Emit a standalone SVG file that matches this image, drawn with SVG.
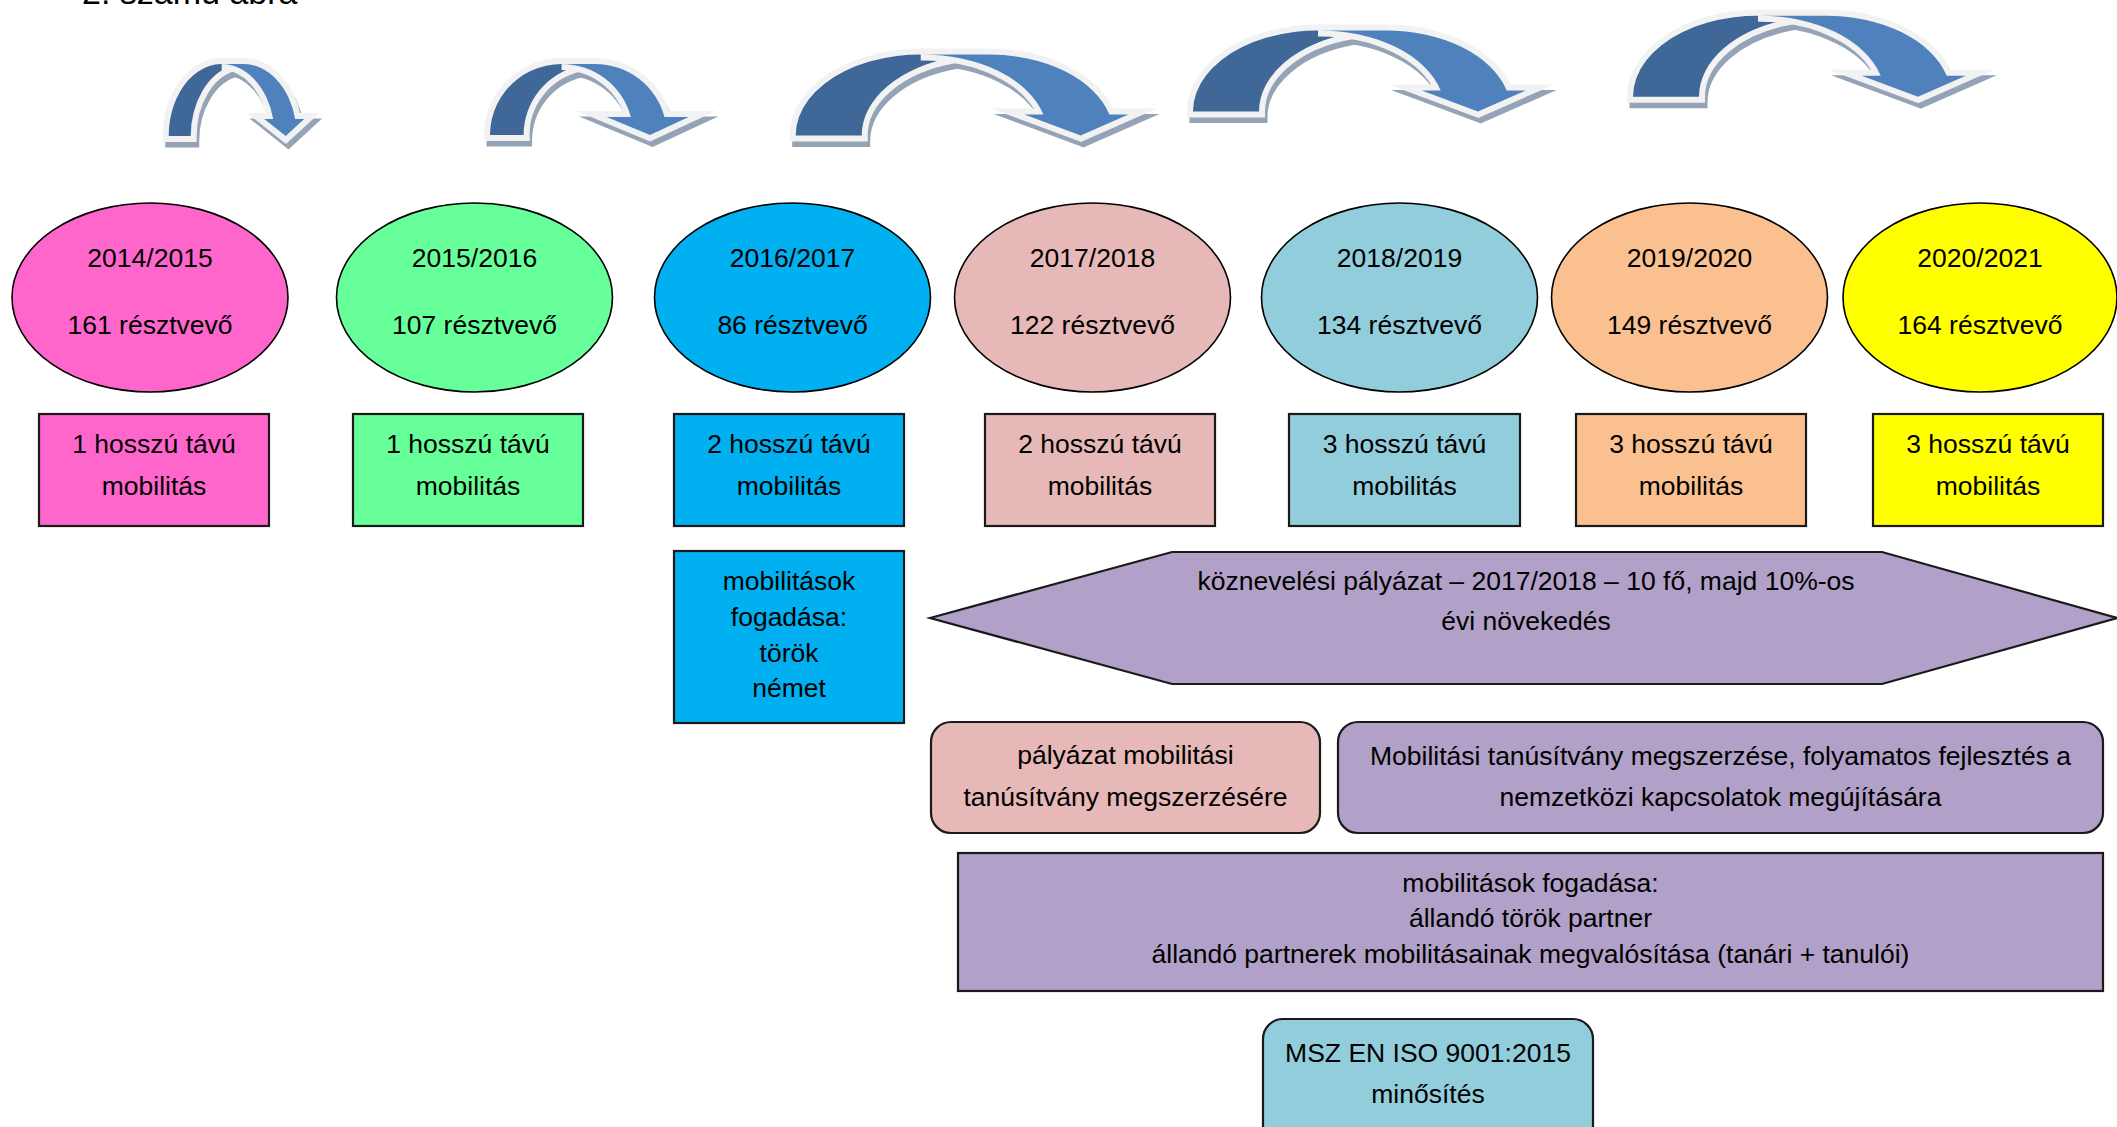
<svg xmlns="http://www.w3.org/2000/svg" width="2117" height="1127" viewBox="0 0 2117 1127">
<defs>
<style>
text{font-family:"Liberation Sans",Arial,sans-serif;font-size:26.5px;fill:#000;text-anchor:middle}
.title{text-anchor:start;font-size:34px}
.sh{fill:#94A3B6;stroke:#94A3B6;stroke-width:12;stroke-linejoin:miter;stroke-miterlimit:12}
.dk{fill:#3F6797;stroke:#F2F2F2;stroke-width:12;stroke-linejoin:miter;stroke-miterlimit:12;paint-order:stroke}
.lt{fill:#4F81BD;stroke:#F2F2F2;stroke-width:12;stroke-linejoin:miter;stroke-miterlimit:12;paint-order:stroke}
.el{stroke:#000;stroke-width:1.6}
.bx{stroke:#1a1a1a;stroke-width:2.2}
</style>
<path id="a1d" d="M64,1.57 A53,72 0 0 0 22,72 L0,72 A53,72 0 0 1 64,1.57 Z"/>
<path id="a1l" d="M117,72 L95.5,55 L104.5,55 A53,72 0 0 0 53,0 L75,0 A53,72 0 0 1 126.5,55 L135.5,55 Z"/>
<path id="a2d" d="M88.4,1.98 A71.6,71 0 0 0 33.6,71 L0,71 A71.6,71 0 0 1 88.4,1.98 Z"/>
<path id="a2l" d="M160,71 L116.66,53 L140.86,53 A71.6,71 0 0 0 71.6,0 L105.2,0 A71.6,71 0 0 1 174.46,53 L198.66,53 Z"/>
<path id="a3d" d="M158,2.87 A125,81 0 0 0 66,81 L0,81 A125,81 0 0 1 158,2.87 Z"/>
<path id="a3l" d="M285,81 L228.73,60 L247.73,60 A125,81 0 0 0 125,0 L191,0 A125,81 0 0 1 313.73,60 L332.73,60 Z"/>
</defs>

<text class="title" x="82" y="4">2. számú ábra</text>

<g id="connectors">
  <g id="arrow1" transform="translate(168.7,64)">
    <use href="#a1d" class="sh" transform="translate(2.5,5.5)"/>
    <use href="#a1l" class="sh" transform="translate(2.5,5.5)"/>
    <use href="#a1d" class="dk"/>
    <use href="#a1l" class="lt"/>
  </g>
  <g id="arrow2" transform="translate(490,64)">
    <use href="#a2d" class="sh" transform="translate(2.5,5.5)"/>
    <use href="#a2l" class="sh" transform="translate(2.5,5.5)"/>
    <use href="#a2d" class="dk"/>
    <use href="#a2l" class="lt"/>
  </g>
  <g id="arrow3" transform="translate(795.7,54.5)">
    <use href="#a3d" class="sh" transform="translate(2.5,5.5)"/>
    <use href="#a3l" class="sh" transform="translate(2.5,5.5)"/>
    <use href="#a3d" class="dk"/>
    <use href="#a3l" class="lt"/>
  </g>
  <g id="arrow4" transform="translate(1193,30.5)">
    <use href="#a3d" class="sh" transform="translate(2.5,5.5)"/>
    <use href="#a3l" class="sh" transform="translate(2.5,5.5)"/>
    <use href="#a3d" class="dk"/>
    <use href="#a3l" class="lt"/>
  </g>
  <g id="arrow5" transform="translate(1633,15.7)">
    <use href="#a3d" class="sh" transform="translate(2.5,5.5)"/>
    <use href="#a3l" class="sh" transform="translate(2.5,5.5)"/>
    <use href="#a3d" class="dk"/>
    <use href="#a3l" class="lt"/>
  </g>
</g>

<g id="year1"><ellipse class="el" cx="150" cy="297.5" rx="138" ry="94.5" fill="#FF66CC"/><text x="150" y="267">2014/2015</text><text x="150" y="334">161 résztvevő</text></g>
<g id="year2"><ellipse class="el" cx="474.5" cy="297.5" rx="138" ry="94.5" fill="#66FF99"/><text x="474.5" y="267">2015/2016</text><text x="474.5" y="334">107 résztvevő</text></g>
<g id="year3"><ellipse class="el" cx="792.5" cy="297.5" rx="138" ry="94.5" fill="#00B0F0"/><text x="792.5" y="267">2016/2017</text><text x="792.5" y="334">86 résztvevő</text></g>
<g id="year4"><ellipse class="el" cx="1092.5" cy="297.5" rx="138" ry="94.5" fill="#E6B8B7"/><text x="1092.5" y="267">2017/2018</text><text x="1092.5" y="334">122 résztvevő</text></g>
<g id="year5"><ellipse class="el" cx="1399.5" cy="297.5" rx="138" ry="94.5" fill="#92CDDC"/><text x="1399.5" y="267">2018/2019</text><text x="1399.5" y="334">134 résztvevő</text></g>
<g id="year6"><ellipse class="el" cx="1689.5" cy="297.5" rx="138" ry="94.5" fill="#FAC090"/><text x="1689.5" y="267">2019/2020</text><text x="1689.5" y="334">149 résztvevő</text></g>
<g id="year7"><ellipse class="el" cx="1980" cy="297.5" rx="137" ry="94.5" fill="#FFFF00"/><text x="1980" y="267">2020/2021</text><text x="1980" y="334">164 résztvevő</text></g>

<g id="mob1"><rect class="bx" x="39" y="414" width="230" height="112" fill="#FF66CC"/><text x="154" y="453">1 hosszú távú</text><text x="154" y="495">mobilitás</text></g>
<g id="mob2"><rect class="bx" x="353" y="414" width="230" height="112" fill="#66FF99"/><text x="468" y="453">1 hosszú távú</text><text x="468" y="495">mobilitás</text></g>
<g id="mob3"><rect class="bx" x="674" y="414" width="230" height="112" fill="#00B0F0"/><text x="789" y="453">2 hosszú távú</text><text x="789" y="495">mobilitás</text></g>
<g id="mob4"><rect class="bx" x="985" y="414" width="230" height="112" fill="#E6B8B7"/><text x="1100" y="453">2 hosszú távú</text><text x="1100" y="495">mobilitás</text></g>
<g id="mob5"><rect class="bx" x="1289" y="414" width="231" height="112" fill="#92CDDC"/><text x="1404.5" y="453">3 hosszú távú</text><text x="1404.5" y="495">mobilitás</text></g>
<g id="mob6"><rect class="bx" x="1576" y="414" width="230" height="112" fill="#FAC090"/><text x="1691" y="453">3 hosszú távú</text><text x="1691" y="495">mobilitás</text></g>
<g id="mob7"><rect class="bx" x="1873" y="414" width="230" height="112" fill="#FFFF00"/><text x="1988" y="453">3 hosszú távú</text><text x="1988" y="495">mobilitás</text></g>

<g id="fogadas1"><rect class="bx" x="674" y="551" width="230" height="172" fill="#00B0F0"/>
<text x="789" y="590">mobilitások</text><text x="789" y="626">fogadása:</text><text x="789" y="661.5">török</text><text x="789" y="697">német</text></g>

<g id="koznevelesi"><polygon class="bx" points="930,618 1172,552 1882,552 2117,618 1882,684 1172,684" fill="#B1A0C7"/>
<text x="1526" y="590">köznevelési pályázat – 2017/2018 – 10 fő, majd 10%-os</text><text x="1526" y="630">évi növekedés</text></g>

<g id="palyazat"><rect class="bx" x="931" y="722" width="389" height="111" rx="20" fill="#E6B8B7"/>
<text x="1125.5" y="764">pályázat mobilitási</text><text x="1125.5" y="806">tanúsítvány megszerzésére</text></g>

<g id="tanusitvany"><rect class="bx" x="1338" y="722" width="765" height="111" rx="20" fill="#B1A0C7"/>
<text x="1720.5" y="765">Mobilitási tanúsítvány megszerzése, folyamatos fejlesztés a</text><text x="1720.5" y="806">nemzetközi kapcsolatok megújítására</text></g>

<g id="fogadas2"><rect class="bx" x="958" y="853" width="1145" height="138" fill="#B1A0C7"/>
<text x="1530.5" y="892">mobilitások fogadása:</text><text x="1530.5" y="927">állandó török partner</text><text x="1530.5" y="963">állandó partnerek mobilitásainak megvalósítása (tanári + tanulói)</text></g>

<g id="iso"><rect class="bx" x="1263" y="1019" width="330" height="140" rx="20" fill="#92CDDC"/>
<text x="1428" y="1062">MSZ EN ISO 9001:2015</text><text x="1428" y="1103">minősítés</text></g>
</svg>
